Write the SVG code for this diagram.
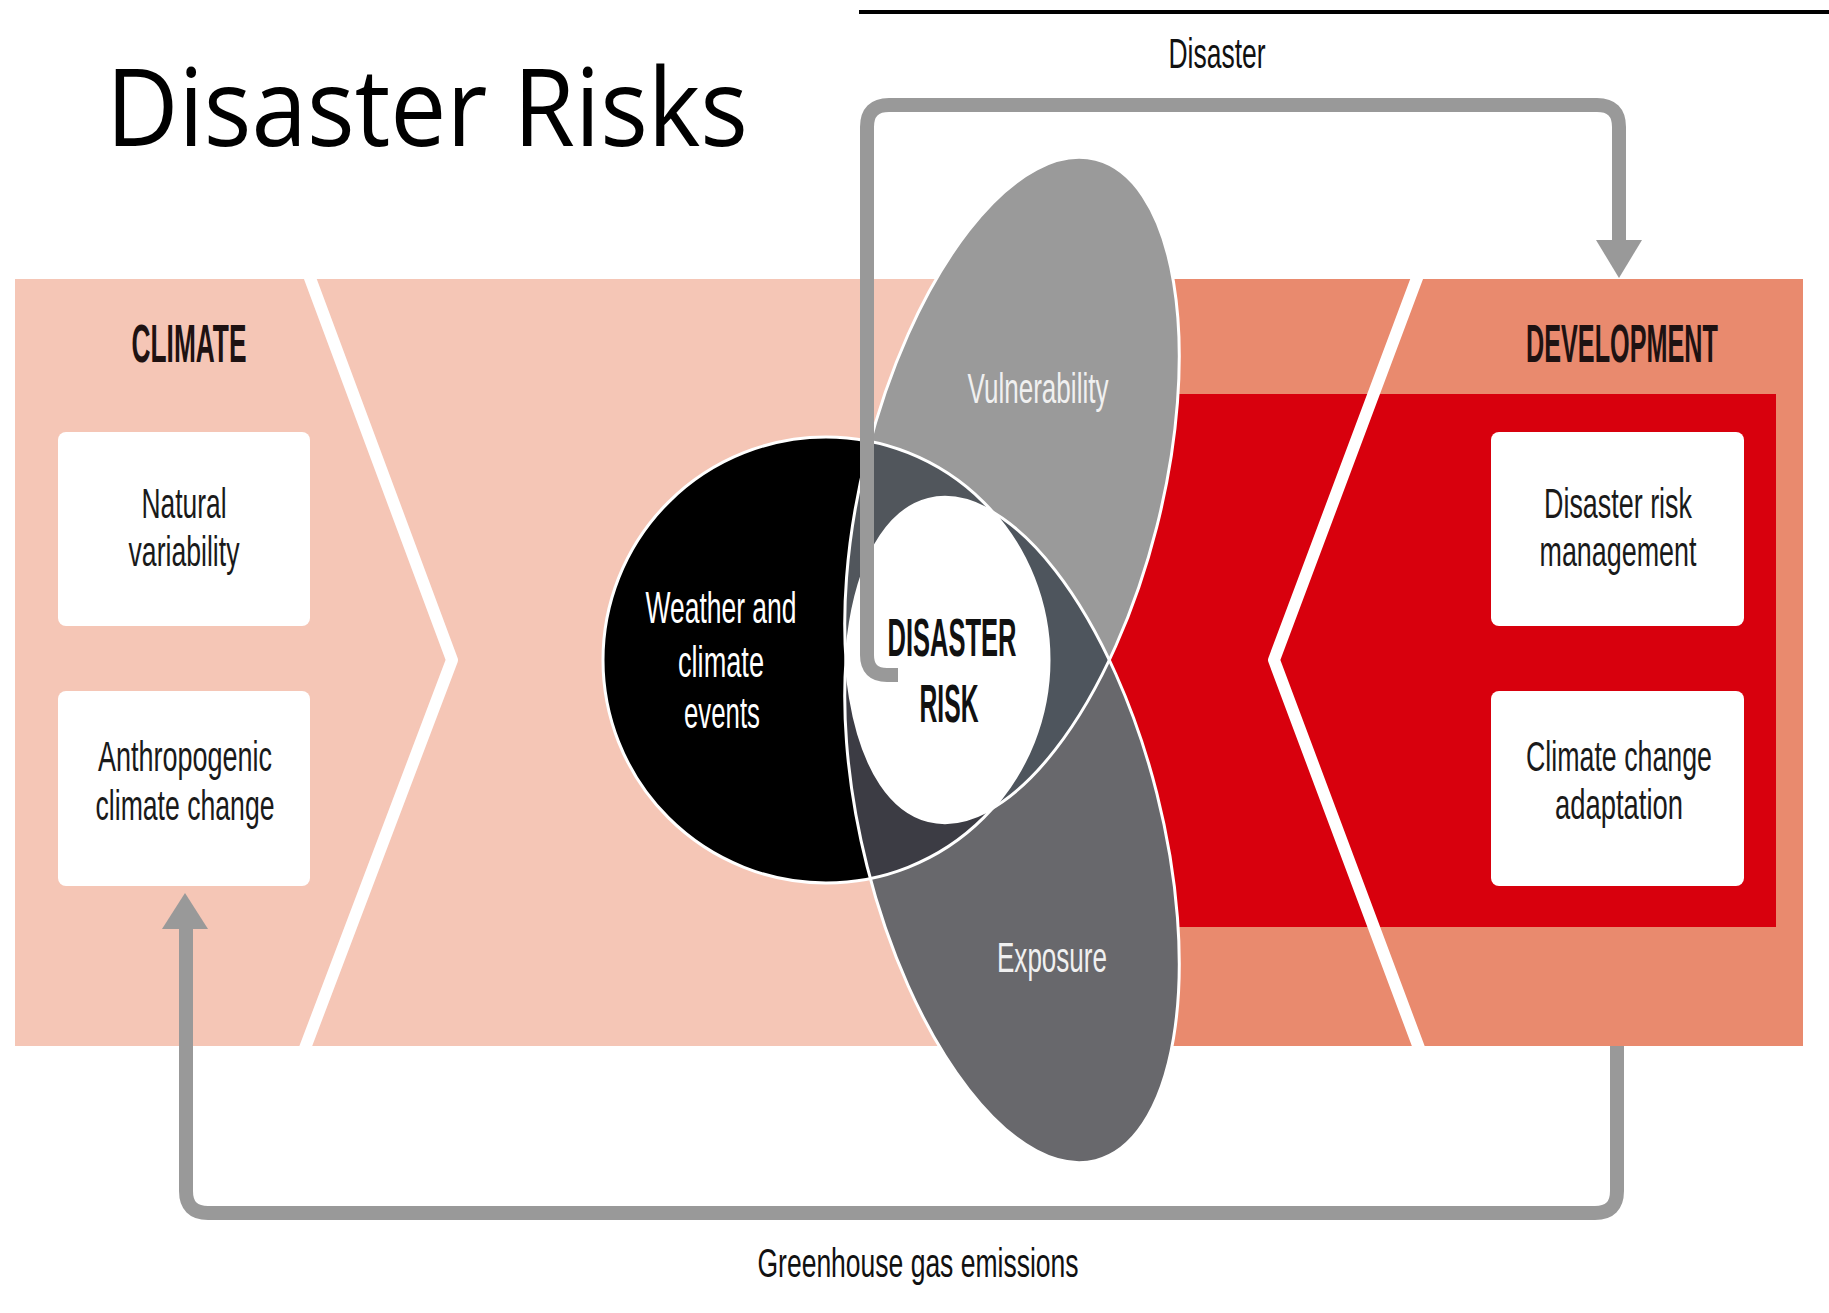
<svg xmlns="http://www.w3.org/2000/svg" xmlns:xlink="http://www.w3.org/1999/xlink" width="1829" height="1313" viewBox="0 0 1829 1313">
  <style>
    .pale { fill: #f5c6b6; }
    .salmon { fill: #e98a6e; }
    .red { fill: #d8000d; }
    .chev { fill: none; stroke: #fff; stroke-width: 12; stroke-linejoin: round; }
    .box { fill: #fff; }
    .t { font-family: "Liberation Sans Narrow", "Liberation Sans", Arial, sans-serif; text-anchor: middle; }
    .head { font-size: 53px; font-weight: bold; fill: #1e1212; }
    .body { font-size: 42px; fill: #1a1a1a; }
    .inv { font-size: 45px; fill: #fff; }
    .core { font-size: 54px; font-weight: bold; fill: #111; }
    .petal { font-size: 42px; fill: #f0f0f0; }
    .flow { fill: none; stroke: #999; stroke-width: 14; }
    .head-arrow { fill: #999; }
    .edge { fill: none; stroke: #fff; stroke-width: 3; }
  </style>
  <defs>
    <!-- the three overlapping shapes: hazard circle, vulnerability and exposure petals -->
    <circle id="shpC" cx="826" cy="660" r="223"/>
    <ellipse id="shpV" cx="1012" cy="490" rx="149.4" ry="341" transform="rotate(14.2 1012 490)"/>
    <ellipse id="shpE" cx="1012" cy="830" rx="149.4" ry="341" transform="rotate(-14.2 1012 830)"/>
    <clipPath id="clipC"><circle cx="826" cy="660" r="223"/></clipPath>
    <clipPath id="clipV"><ellipse cx="1012" cy="490" rx="149.4" ry="341" transform="rotate(14.2 1012 490)"/></clipPath>
    <clipPath id="clipBand"><rect x="15" y="279" width="1788" height="767"/></clipPath>
  </defs>

  <rect width="1829" height="1313" fill="#fff"/>

  <!-- title -->
  <g id="title">
    <text x="106" y="146" font-family="'Open Sans', 'Liberation Sans', sans-serif" font-size="108" fill="#000" textLength="642" lengthAdjust="spacingAndGlyphs">Disaster Risks</text>
    <line x1="859" y1="12" x2="1829" y2="12" stroke="#000" stroke-width="4"/>
  </g>

  <!-- climate band (left) -->
  <g id="climate">
    <rect class="pale" x="15" y="279" width="1157" height="767"/>
    <text class="t head" x="189" y="362" textLength="115" lengthAdjust="spacingAndGlyphs">CLIMATE</text>
  </g>

  <!-- development band (right) -->
  <g id="development">
    <rect class="salmon" x="1165" y="279" width="638" height="767"/>
    <path class="red" d="M1165 394 L1776 394 L1776 927 L1165 927 L1100 660 Z"/>
    <text class="t head" x="1622" y="362" textLength="192" lengthAdjust="spacingAndGlyphs">DEVELOPMENT</text>
  </g>

  <!-- chevron separators -->
  <g id="chevrons" clip-path="url(#clipBand)">
    <polyline class="chev" points="307,270 452,660 302,1056"/>
    <polyline class="chev" points="1420,270 1274,660 1422,1056"/>
  </g>

  <g id="box-natural">
    <rect class="box" x="58" y="432" width="252" height="194" rx="8"/>
    <text class="t body" x="184" y="518" textLength="85" lengthAdjust="spacingAndGlyphs">Natural</text>
    <text class="t body" x="184" y="566" textLength="111" lengthAdjust="spacingAndGlyphs">variability</text>
  </g>
  <g id="box-anthropogenic">
    <rect class="box" x="58" y="691" width="252" height="195" rx="8"/>
    <text class="t body" x="185" y="771" textLength="174" lengthAdjust="spacingAndGlyphs">Anthropogenic</text>
    <text class="t body" x="185" y="820" textLength="179" lengthAdjust="spacingAndGlyphs">climate change</text>
  </g>
  <g id="box-drm">
    <rect class="box" x="1491" y="432" width="253" height="194" rx="8"/>
    <text class="t body" x="1618" y="518" textLength="148" lengthAdjust="spacingAndGlyphs">Disaster risk</text>
    <text class="t body" x="1618" y="566" textLength="157" lengthAdjust="spacingAndGlyphs">management</text>
  </g>
  <g id="box-cca">
    <rect class="box" x="1491" y="691" width="253" height="195" rx="8"/>
    <text class="t body" x="1619" y="771" textLength="186" lengthAdjust="spacingAndGlyphs">Climate change</text>
    <text class="t body" x="1619" y="819" textLength="128" lengthAdjust="spacingAndGlyphs">adaptation</text>
  </g>

  <!-- overlapping shapes -->
  <g id="hazard">
    <use xlink:href="#shpC" fill="#000"/>
  </g>
  <g id="vulnerability">
    <use xlink:href="#shpV" fill="#9a9a9a"/>
  </g>
  <g id="exposure">
    <use xlink:href="#shpE" fill="#68686c"/>
  </g>
  <g id="overlaps">
    <g clip-path="url(#clipV)"><use xlink:href="#shpE" fill="#4e555d"/></g>
    <g clip-path="url(#clipC)"><use xlink:href="#shpV" fill="#51565c"/></g>
    <g clip-path="url(#clipC)"><use xlink:href="#shpE" fill="#3c3c44"/></g>
  </g>
  <g id="disaster-risk">
    <g clip-path="url(#clipC)"><g clip-path="url(#clipV)"><use xlink:href="#shpE" fill="#fff"/></g></g>
  </g>
  <g id="outlines">
    <use xlink:href="#shpC" class="edge"/>
    <use xlink:href="#shpV" class="edge"/>
    <use xlink:href="#shpE" class="edge"/>
  </g>

  <!-- connectors -->
  <g id="connectors">
    <path class="flow" d="M898 675 L887 675 Q867 675 867 655 L867 127 Q867 105 889 105 L1597 105 Q1619 105 1619 127 L1619 242"/>
    <polygon class="head-arrow" points="1596,240 1642,240 1619,278"/>
    <text class="t" x="1217" y="68" font-size="43" fill="#111" textLength="97" lengthAdjust="spacingAndGlyphs">Disaster</text>

    <path class="flow" d="M1617 1046 L1617 1191 Q1617 1213 1595 1213 L208 1213 Q186 1213 186 1191 L186 926"/>
    <polygon class="head-arrow" points="162,929 208,929 185,893"/>
    <text class="t" x="918" y="1277" font-size="41" fill="#111" textLength="321" lengthAdjust="spacingAndGlyphs">Greenhouse gas emissions</text>
  </g>

  <!-- labels on the shapes -->
  <g id="shape-labels">
    <text class="t inv" x="721" y="623" textLength="151" lengthAdjust="spacingAndGlyphs">Weather and</text>
    <text class="t inv" x="721" y="677" textLength="86" lengthAdjust="spacingAndGlyphs">climate</text>
    <text class="t inv" x="722" y="728" textLength="76" lengthAdjust="spacingAndGlyphs">events</text>
    <text class="t core" x="952" y="656" textLength="129" lengthAdjust="spacingAndGlyphs">DISASTER</text>
    <text class="t core" x="949" y="722" textLength="59" lengthAdjust="spacingAndGlyphs">RISK</text>
    <text class="t petal" x="1038" y="403" textLength="141" lengthAdjust="spacingAndGlyphs">Vulnerability</text>
    <text class="t petal" x="1052" y="972" textLength="110" lengthAdjust="spacingAndGlyphs">Exposure</text>
  </g>
</svg>
